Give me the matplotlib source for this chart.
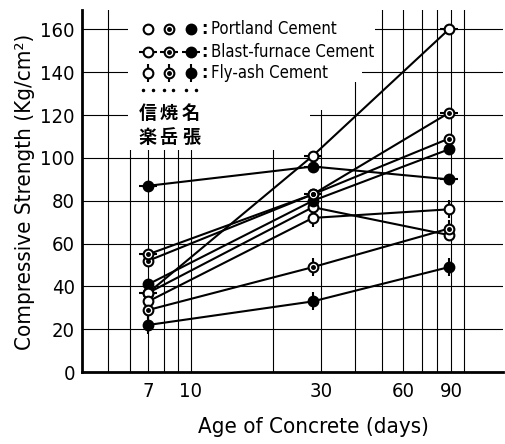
import matplotlib
matplotlib.use('Agg')
import matplotlib.pyplot as plt
from matplotlib.patches import Polygon

# test ages (days) as plotted
days = [7, 28, 88]

# compressive strength, kg/cm2 -- one list per cement / sand source
portland_shigaraki = [37, 77, 64]
portland_yakedake = [52, 83, 109]
portland_nabari = [41, 80, 104]
blast_shigaraki = [37, 101, 160]
blast_yakedake = [55, 83, 121]
blast_nabari = [87, 96, 90]
flyash_shigaraki = [33, 72, 76]
flyash_yakedake = [29, 49, 67]
flyash_nabari = [22, 33, 49]

cement_names = ['Portland Cement', 'Blast-furnace Cement', 'Fly-ash Cement']
source_top = ['信', '焼', '名']
source_bottom = ['楽', '岳', '張']

x_ticks = [7, 10, 30, 60, 90]
x_grid = [5, 6, 7, 8, 9, 10, 20, 30, 40, 50, 60, 70, 80, 90, 100]
y_ticks = [0, 20, 40, 60, 80, 100, 120, 140, 160]

series = [
    (portland_shigaraki, 0, 0), (portland_yakedake, 0, 1), (portland_nabari, 0, 2),
    (blast_shigaraki, 1, 0), (blast_yakedake, 1, 1), (blast_nabari, 1, 2),
    (flyash_shigaraki, 2, 0), (flyash_yakedake, 2, 1), (flyash_nabari, 2, 2),
]

FONT = dict(family='DejaVu Sans', stretch='condensed')


def draw_marker(ax, x, y, cement, source, **kw):
    ms = 7
    if cement == 1:
        ax.plot(x, y, marker='_', ms=ms * 1.9, mew=1.5, color='k', ls='none', zorder=4, **kw)
    elif cement == 2:
        ax.plot(x, y, marker='|', ms=ms * 1.9, mew=1.5, color='k', ls='none', zorder=4, **kw)
    face = 'black' if source == 2 else 'white'
    ax.plot(x, y, marker='o', ms=ms, mfc=face, mec='k', mew=1.5, ls='none', zorder=5, **kw)
    if source == 1:
        ax.plot(x, y, marker='o', ms=2.5, color='k', ls='none', zorder=6, **kw)


fig = plt.figure(figsize=(5.05, 4.44), dpi=100)
ax = fig.add_axes([0.162, 0.162, 0.834, 0.815])

for values, cement, source in series:
    ax.plot(days, values, color='k', lw=1.5, zorder=3)
    draw_marker(ax, days, values, cement, source)

ax.set_xscale('log')
ax.set_xlim(4, 139)
ax.set_ylim(0, 169)
ax.set_xticks(x_ticks)
ax.set_xticklabels([str(v) for v in x_ticks])
ax.set_xticks(x_grid, minor=True)
ax.xaxis.set_minor_formatter(plt.NullFormatter())
ax.set_yticks(y_ticks)
ax.tick_params(which='both', length=0, labelsize=14.5)
ax.tick_params(axis='x', pad=7)
ax.tick_params(axis='y', pad=5)
for lab in ax.get_xticklabels() + ax.get_yticklabels():
    lab.set_fontstretch('condensed')

ax.set_axisbelow(True)
ax.grid(True, which='both', axis='x', color='k', lw=0.8)
ax.grid(True, which='major', axis='y', color='k', lw=0.8)

for side in ['top', 'right']:
    ax.spines[side].set_visible(False)
ax.spines['left'].set_linewidth(2)
ax.spines['bottom'].set_linewidth(2)

# blank area behind the key, as on the original sheet
blank = Polygon([(0.109, 1.0), (0.696, 1.0), (0.696, 0.917), (0.665, 0.917),
                 (0.665, 0.801), (0.577, 0.801), (0.577, 0.724), (0.542, 0.724),
                 (0.542, 0.613), (0.109, 0.613)],
                closed=True, transform=ax.transAxes, facecolor='white',
                edgecolor='none', zorder=1)
ax.add_patch(blank)

# key
col_x = [0.157, 0.206, 0.259]
row_y = [0.948, 0.884, 0.826]
for cement, name in enumerate(cement_names):
    for source in range(3):
        draw_marker(ax, [col_x[source]], [row_y[cement]], cement, source,
                    transform=ax.transAxes, clip_on=False)
    ax.text(0.29, row_y[cement], ':', transform=ax.transAxes, ha='center',
            va='center', fontsize=13, fontweight='bold', **FONT)
    ax.text(0.307, row_y[cement], name, transform=ax.transAxes, ha='left',
            va='center', fontsize=12, **FONT)

for source in range(3):
    ax.plot([col_x[source] - 0.011, col_x[source] + 0.011], [0.779, 0.779],
            marker='o', ms=1.5, color='k', ls='none', transform=ax.transAxes)
    ax.text(col_x[source], 0.715, source_top[source], transform=ax.transAxes,
            ha='center', va='center', fontsize=13, fontweight='bold',
            family='Noto Sans CJK JP')
    ax.text(col_x[source], 0.649, source_bottom[source], transform=ax.transAxes,
            ha='center', va='center', fontsize=13, fontweight='bold',
            family='Noto Sans CJK JP')

fig.text(313 / 505, 1 - 427 / 444, 'Age of Concrete (days)', ha='center',
         va='center', fontsize=16, **FONT)
fig.text(25 / 505, 1 - 192 / 444, 'Compressive Strength (Kg/cm²)', ha='center',
         va='center', rotation=90, fontsize=16, **FONT)

fig.savefig('out.png', dpi=100)
